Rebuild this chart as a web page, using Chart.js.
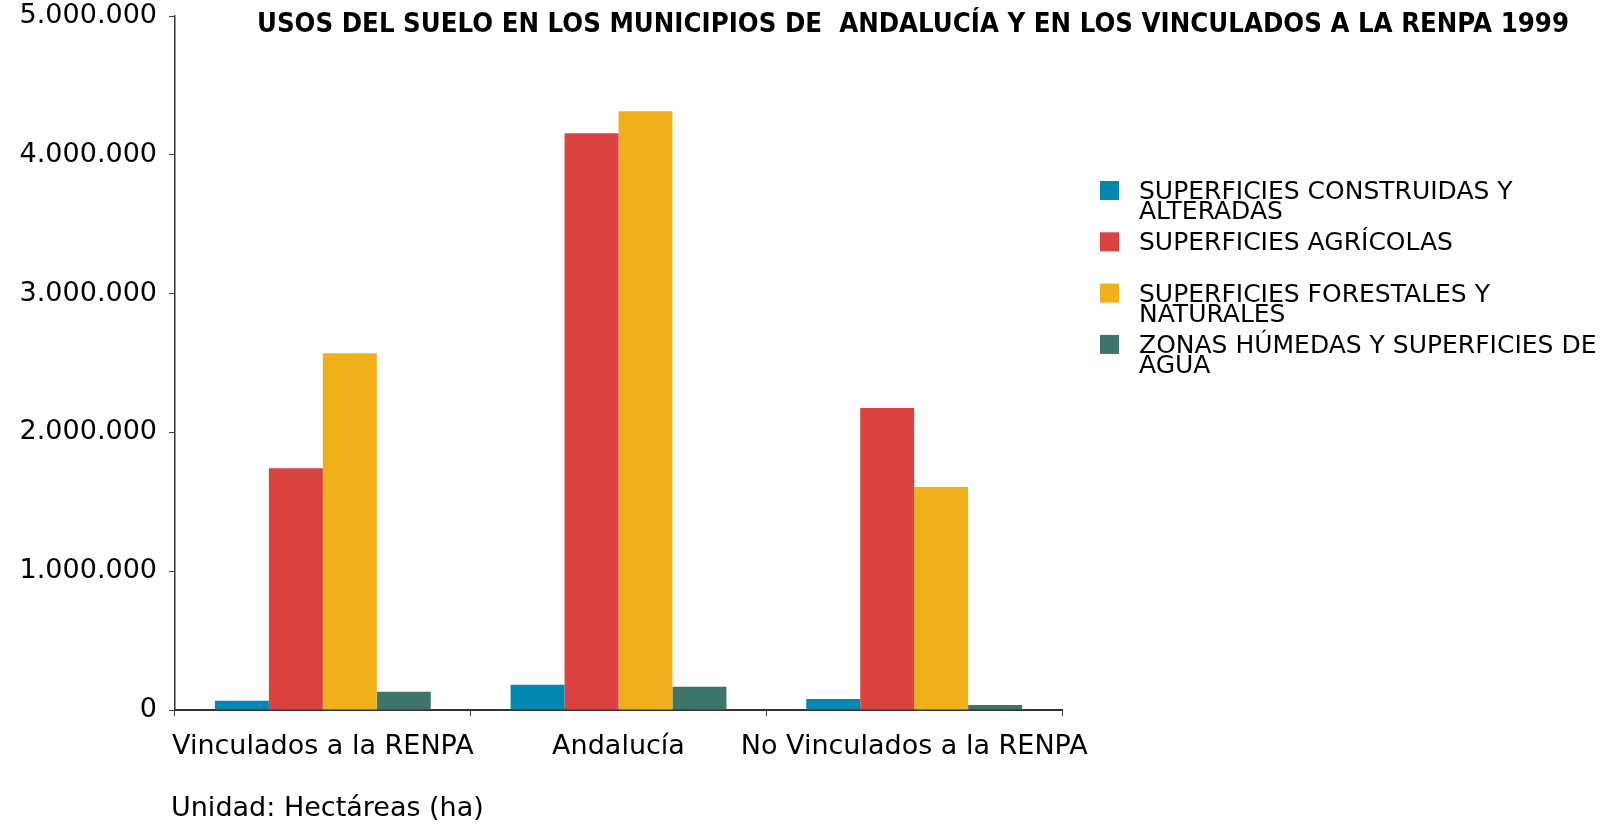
<!DOCTYPE html>
<html>
<head>
<meta charset="utf-8">
<script src="https://cdn.jsdelivr.net/npm/chart.js@4.4.1/dist/chart.umd.min.js"></script>
<style>
  html, body { margin: 0; padding: 0; background: #ffffff; }
  #wrap { width: 1607px; height: 829px; position: relative; }
</style>
</head>
<body>
<div id="wrap"><canvas id="c"></canvas></div>
<script>
const categories = ['Vinculados a la RENPA', 'Andalucía', 'No Vinculados a la RENPA'];
const seriesNames = [
  'SUPERFICIES CONSTRUIDAS Y ALTERADAS',
  'SUPERFICIES AGRÍCOLAS',
  'SUPERFICIES FORESTALES Y NATURALES',
  'ZONAS HÚMEDAS Y SUPERFICIES DE AGUA'
];
const legendLines = [
  ['SUPERFICIES CONSTRUIDAS Y', 'ALTERADAS'],
  ['SUPERFICIES AGRÍCOLAS'],
  ['SUPERFICIES FORESTALES Y', 'NATURALES'],
  ['ZONAS HÚMEDAS Y SUPERFICIES DE', 'AGUA']
];
const construidas = [66000, 182000, 80000];
const agricolas   = [1742000, 4156000, 2175000];
const forestales  = [2571000, 4314000, 1606000];
const humedas     = [131000, 167000, 36000];
const yTickLabels = ['0', '1.000.000', '2.000.000', '3.000.000', '4.000.000', '5.000.000'];
const titleText = 'USOS DEL SUELO EN LOS MUNICIPIOS DE  ANDALUCÍA Y EN LOS VINCULADOS A LA RENPA 1999';
const footerText = 'Unidad: Hectáreas (ha)';

const colors = ['#0187B0', '#DB4242', '#F0B019', '#3E746A'];
const seriesValues = [construidas, agricolas, forestales, humedas];
const FONT = '"DejaVu Sans", Verdana, sans-serif';

const overlayPlugin = {
  id: 'overlay',
  afterDraw(chart) {
    const ctx = chart.ctx;
    ctx.save();
    // Title
    ctx.fillStyle = '#000000';
    ctx.font = 'bold 26px ' + FONT;
    ctx.textAlign = 'center';
    ctx.textBaseline = 'alphabetic';
    ctx.fillText(titleText, 913, 32, 1312);
    // Legend
    ctx.textAlign = 'left';
    ctx.font = '25px ' + FONT;
    chart.data.datasets.forEach((ds, i) => {
      const top = 181 + i * 51.3;
      ctx.fillStyle = ds.backgroundColor;
      ctx.fillRect(1100, top, 19, 19);
      ctx.fillStyle = '#000000';
      legendLines[i].forEach((line, k) => {
        ctx.fillText(line, 1139, top + 18 + k * 20);
      });
    });
    // Footer
    ctx.font = '27px ' + FONT;
    ctx.fillStyle = '#000000';
    ctx.fillText(footerText, 171, 816);
    ctx.restore();
  }
};

new Chart(document.getElementById('c'), {
  type: 'bar',
  data: {
    labels: categories,
    datasets: seriesNames.map((name, i) => ({
      label: name,
      data: seriesValues[i],
      backgroundColor: colors[i],
      borderWidth: 0,
      barPercentage: 1.0,
      categoryPercentage: 0.73
    }))
  },
  options: {
    responsive: true,
    maintainAspectRatio: false,
    animation: false,
    layout: { padding: { left: 0, right: 545, top: 16, bottom: 0 } },
    plugins: {
      legend: { display: false },
      title: { display: false },
      tooltip: { enabled: false }
    },
    scales: {
      x: {
        afterFit(scale) { scale.height = 119; },
        grid: { display: true, drawOnChartArea: false, drawTicks: true, tickLength: 6, color: '#444444', offset: true },
        border: { display: true, color: '#333333', width: 2 },
        ticks: { color: '#000000', font: { family: FONT, size: 27 }, padding: 15, maxRotation: 0, autoSkip: false }
      },
      y: {
        min: 0,
        max: 5000000,
        afterFit(scale) { scale.width = 175; scale.paddingTop = 0; scale.paddingBottom = 0; },
        grid: { display: true, drawOnChartArea: false, drawTicks: true, tickLength: 6, color: '#444444' },
        border: { display: true, color: '#333333', width: 1.5 },
        ticks: {
          stepSize: 1000000,
          color: '#000000',
          font: { family: FONT, size: 27 },
          padding: 12,
          callback: function(value, index) { return yTickLabels[index]; }
        }
      }
    }
  },
  plugins: [overlayPlugin]
});
</script>
</body>
</html>
